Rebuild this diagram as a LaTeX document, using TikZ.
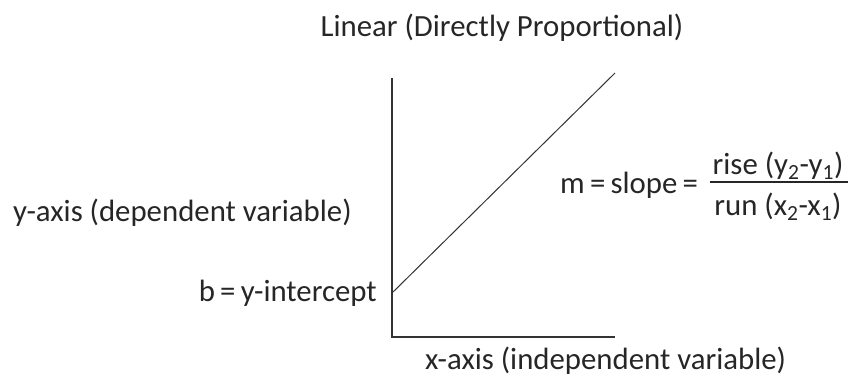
\documentclass[tikz,border=0pt]{standalone}
\usepackage{fontspec}
\setmainfont{Carlito}
\newcommand{\eqsp}{\hspace{0.17em}=\hspace{0.17em}}
\begin{document}
\begin{tikzpicture}[x=1pt,y=-1pt,
  lbl/.style={inner sep=0pt,font=\fontsize{30.8}{35}\selectfont,text=black!85},
  axisline/.style={line width=2pt,black!80},
  dataline/.style={line width=1pt,black!80}]
\useasboundingbox (0,0) rectangle (851,381);
\coordinate (top) at (392,78);
\coordinate (origin) at (392,337);
\coordinate (xend) at (615,337);
\coordinate (b) at (392,293);
\coordinate (lineend) at (615,73);
\draw[axisline] (top) -- (origin) -- (xend);
\draw[dataline] (b) -- (lineend);
\node[lbl] (title) at (502,28) {Linear (Directly Proportional)};
\node[lbl,anchor=west] (ylab) at (13,213) {y-axis (dependent variable)};
\node[lbl,anchor=east] (blab) at (377,293) {b\eqsp y-intercept};
\node[lbl,anchor=west] (xlab) at (425,361) {x-axis (independent variable)};
\node[lbl,anchor=west] (mlab) at (560,185) {m\eqsp slope\eqsp};
\draw[line width=1.3pt,black!85] (710,182) coordinate (barL) -- (848,182) coordinate (barR);
\node[lbl] (num) at (778,166) {rise (y\textsubscript{2}-y\textsubscript{1})};
\node[lbl] (den) at (778,207) {run (x\textsubscript{2}-x\textsubscript{1})};
\end{tikzpicture}
\end{document}
